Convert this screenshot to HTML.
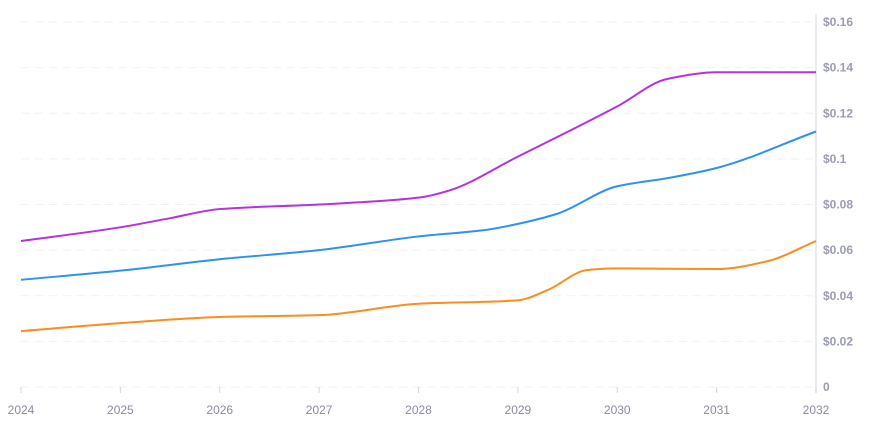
<!DOCTYPE html>
<html><head><meta charset="utf-8"><style>
html,body{margin:0;padding:0;background:#fff;width:874px;height:430px;overflow:hidden}
text{font-family:"Liberation Sans",sans-serif}
</style></head><body>
<svg id="chart" width="874" height="430"></svg>
<script>
const years=[2024,2025,2026,2027,2028,2029,2030,2031,2032];
const yTicks=[0,0.02,0.04,0.06,0.08,0.1,0.12,0.14,0.16];
const yTickLabels=["0","$0.02","$0.04","$0.06","$0.08","$0.1","$0.12","$0.14","$0.16"];
const purpleX=[2024,2025,2025.5,2026,2027,2028,2028.3,2029,2030,2030.5,2031,2032];
const purpleY=[0.064,0.070,0.074,0.078,0.080,0.083,0.086,0.101,0.123,0.135,0.138,0.138];
const blueX=[2024,2025,2026,2027,2028,2028.7,2029,2029.4,2030,2030.5,2031,2032];
const blueY=[0.047,0.051,0.056,0.060,0.066,0.069,0.0715,0.076,0.088,0.0915,0.096,0.112];
const orangeX=[2024,2025,2026,2027,2028,2029,2029.3,2029.7,2030,2031,2031.5,2032];
const orangeY=[0.0245,0.028,0.0307,0.0315,0.0365,0.038,0.0425,0.0513,0.052,0.0517,0.055,0.064];

const svg=document.getElementById('chart');
const NS='http://www.w3.org/2000/svg';
const X0=21,X1=816,Y0=387,Y1=22;
const xs=v=>X0+(v-2024)/(2032-2024)*(X1-X0);
const ys=v=>Y0-v/0.16*(Y0-Y1);
function mk(tag,attrs){const e=document.createElementNS(NS,tag);for(const k in attrs)e.setAttribute(k,attrs[k]);svg.appendChild(e);return e;}

yTicks.forEach((t,i)=>{
  const y=ys(t);
  const g=mk('line',{x1:X0,x2:X1,y1:y,y2:y,stroke:'#eef0f5','stroke-width':1,'stroke-dasharray':'8,6'});
  
  
  const tx=mk('text',{x:823,y:y+4,'font-size':12,'font-weight':'bold',fill:'#9a9cb0'});
  tx.textContent=yTickLabels[i];
  
  
});
const ax=mk('line',{x1:X1,x2:X1,y1:Y1-8,y2:Y0+6,stroke:'#e3e4ea','stroke-width':1.5});


years.forEach(yr=>{
  const x=xs(yr);
  const tk=mk('line',{x1:x,x2:x,y1:Y0,y2:Y0+6,stroke:'#d5d6de'});
  
  
  const tx=mk('text',{x:x,y:414,'font-size':12,fill:'#8a8c9c','text-anchor':'middle'});
  tx.textContent=yr;
  
  
});

function monotonePath(px,py){
  const n=px.length,d=[],m=[];
  for(let i=0;i<n-1;i++)d.push((py[i+1]-py[i])/(px[i+1]-px[i]));
  m[0]=d[0];m[n-1]=d[n-2];
  for(let i=1;i<n-1;i++){
    if(d[i-1]*d[i]<=0)m[i]=0;
    else{const h0=px[i]-px[i-1],h1=px[i+1]-px[i];m[i]=3*(h0+h1)/((2*h1+h0)/d[i-1]+(h1+2*h0)/d[i]);}
  }
  let s='M'+px[0]+','+py[0];
  for(let i=0;i<n-1;i++){
    const h=(px[i+1]-px[i])/3;
    s+=' C'+(px[i]+h)+','+(py[i]+m[i]*h)+' '+(px[i+1]-h)+','+(py[i+1]-m[i+1]*h)+' '+px[i+1]+','+py[i+1];
  }
  return s;
}
function series(xv,yv,color,name){
  const p=mk('path',{d:monotonePath(xv.map(xs),yv.map(ys)),fill:'none',stroke:color,'stroke-width':2});
  
  
}
series(orangeX,orangeY,'#fb8c1e','orange-series-line');
series(blueX,blueY,'#2f91f0','blue-series-line');
series(purpleX,purpleY,'#b432e2','purple-series-line');
</script>
</body></html>
